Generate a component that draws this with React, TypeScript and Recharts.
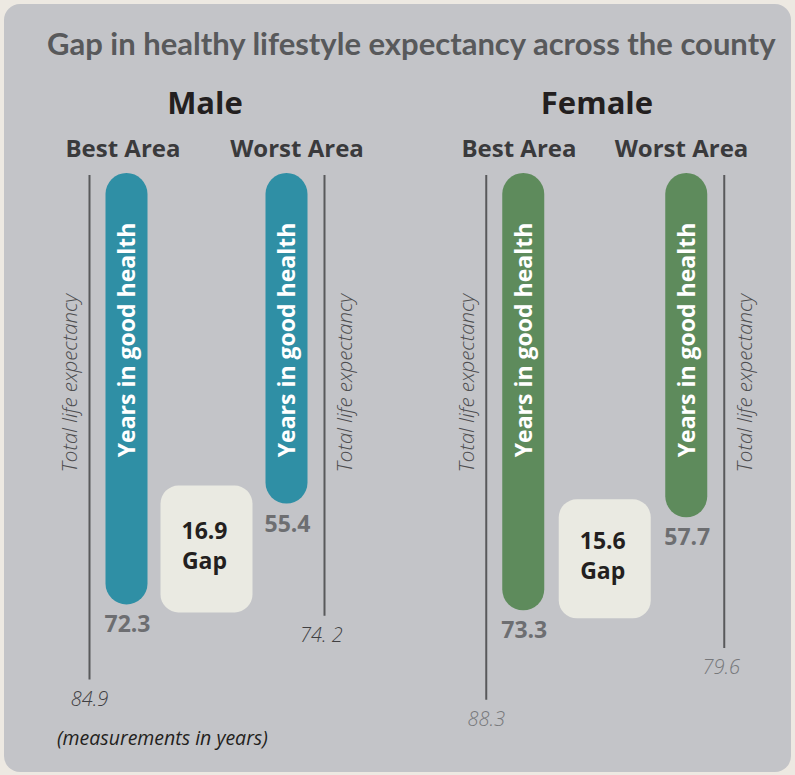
import { BarChart, Bar, XAxis, YAxis } from "recharts";

const AREAS = ["Best Area", "Gap", "Worst Area"];

const MALE_GOOD_HEALTH = [72.3, 55.4];
const MALE_TOTAL = [84.9, 74.2];
const MALE_TOTAL_LABELS = ["84.9", "74. 2"];

const FEMALE_GOOD_HEALTH = [73.3, 57.7];
const FEMALE_TOTAL = [88.3, 79.6];
const FEMALE_TOTAL_LABELS = ["88.3", "79.6"];

const FONT = "'Open Sans', 'Noto Sans', sans-serif";
const TITLE_FONT = "Lato, 'Open Sans', sans-serif";
const TEAL = "#2f8fa5";
const GREEN = "#5e8b5c";

function buildRows(good: number[], total: number[], totalLabels: string[]) {
  const gap = +(good[0] - good[1]).toFixed(1);
  return [
    { area: AREAS[0], good: good[0], total: total[0], totalLabel: totalLabels[0] },
    { area: AREAS[1], gap: [good[1], good[0]], gapValue: gap },
    { area: AREAS[2], good: good[1], total: total[1], totalLabel: totalLabels[1] },
  ];
}

function norm(p: any) {
  const top = Math.min(p.y, p.y + p.height);
  const h = Math.abs(p.height);
  return { cx: p.x + p.width / 2, top, bottom: top + h };
}

const pill = (fill: string) => (p: any) => {
  if (p.payload?.good == null) return <g />;
  const { cx, top, bottom } = norm(p);
  const w = 42;
  return (
    <g>
      <rect x={cx - w / 2} y={top} width={w} height={bottom - top} rx={w / 2} fill={fill} />
      <text
        x={cx}
        y={340}
        transform={`rotate(-90, ${cx}, 340)`}
        textAnchor="middle"
        dy="0.36em"
        fill="#fff"
        fontFamily={FONT}
        fontWeight={700}
        fontSize={23}
      >
        Years in good health
      </text>
      <text x={cx + 1} y={bottom + 28} textAnchor="middle" fill="#6d6e71" fontFamily={FONT} fontWeight={700} fontSize={23}>
        {p.payload.good}
      </text>
    </g>
  );
};

const totalLine = (labelColor: string) => (p: any) => {
  if (p.payload?.total == null) return <g />;
  const { cx, top, bottom } = norm(p);
  const left = p.index === 0;
  const lx = left ? cx - 37 : cx + 38;
  const tx = left ? lx - 20 : lx + 20;
  return (
    <g>
      <line x1={lx} x2={lx} y1={top + 2} y2={bottom} stroke="#58595b" strokeWidth={2} />
      <text
        x={tx}
        y={383}
        transform={`rotate(-90, ${tx}, 383)`}
        textAnchor="middle"
        dy="0.36em"
        fill="#4d4d4f"
        fontFamily={FONT}
        fontStyle="italic"
        fontWeight={300}
        fontSize={20.5}
      >
        Total life expectancy
      </text>
      <text
        x={left ? lx : lx - 3}
        y={bottom + 26}
        textAnchor="middle"
        fill={labelColor}
        fontFamily={FONT}
        fontStyle="italic"
        fontWeight={300}
        fontSize={20}
      >
        {p.payload.totalLabel}
      </text>
    </g>
  );
};

const gapBox = (p: any) => {
  if (p.payload?.gap == null) return <g />;
  const { cx, top, bottom } = norm(p);
  const y0 = top - 18;
  const y1 = bottom + 8;
  const mid = (y0 + y1) / 2;
  return (
    <g>
      <rect x={cx - 46} y={y0} width={92} height={y1 - y0} rx={18} fill="#eaeae2" />
      <text x={cx - 2} textAnchor="middle" fill="#231f20" fontFamily={FONT} fontWeight={700} fontSize={23}>
        <tspan x={cx - 2} y={mid - 10}>{p.payload.gapValue.toFixed(1)}</tspan>
        <tspan x={cx - 2} y={mid + 20}>Gap</tspan>
      </text>
    </g>
  );
};

const AreaTick = (offsets: number[]) => (p: any) => {
  const i = p.index;
  if (i === 1) return <g />;
  return (
    <text x={p.x + offsets[i]} y={157} textAnchor="middle" fill="#3a3a3c" fontFamily={FONT} fontWeight={700} fontSize={24}>
      {p.payload.value}
    </text>
  );
};

function GenderChart({
  rows,
  color,
  labelColor,
  left,
  width,
  marginLeft,
  marginRight,
  offsets,
}: {
  rows: any[];
  color: string;
  labelColor: string;
  left: number;
  width: number;
  marginLeft: number;
  marginRight: number;
  offsets: number[];
}) {
  return (
    <div style={{ position: "absolute", left, top: 0 }}>
      <BarChart
        width={width}
        height={775}
        data={rows}
        margin={{ top: 133, right: marginRight, left: marginLeft, bottom: 65 }}
        barSize={42}
        barGap={-42}
        barCategoryGap={0}
      >
        <XAxis
          dataKey="area"
          orientation="top"
          height={40}
          axisLine={false}
          tickLine={false}
          interval={0}
          tick={AreaTick(offsets)}
        />
        <YAxis hide reversed domain={[0, 90]} type="number" />
        <Bar dataKey="total" shape={totalLine(labelColor)} isAnimationActive={false} />
        <Bar dataKey="gap" shape={gapBox} isAnimationActive={false} />
        <Bar dataKey="good" shape={pill(color)} isAnimationActive={false} />
      </BarChart>
    </div>
  );
}

export default function App() {
  const male = buildRows(MALE_GOOD_HEALTH, MALE_TOTAL, MALE_TOTAL_LABELS);
  const female = buildRows(FEMALE_GOOD_HEALTH, FEMALE_TOTAL, FEMALE_TOTAL_LABELS);
  return (
    <div style={{ position: "absolute", left: 0, top: 0, width: 795, height: 775, background: "#ede9e2", overflow: "hidden" }}>
      <div style={{ position: "absolute", left: 4, top: 4, width: 787, height: 768, borderRadius: 16, background: "#c3c4c8" }} />
      <svg width={795} height={775} style={{ position: "absolute", left: 0, top: 0 }}>
        <text x={47} y={55} fill="#58595b" fontFamily={TITLE_FONT} fontWeight={700} fontSize={31}>
          Gap in healthy lifestyle expectancy across the county
        </text>
        <text x={205} y={114} textAnchor="middle" fill="#231f20" fontFamily={FONT} fontWeight={700} fontSize={31}>
          Male
        </text>
        <text x={597} y={114} textAnchor="middle" fill="#231f20" fontFamily={FONT} fontWeight={700} fontSize={31}>
          Female
        </text>
        <text x={57} y={745} fill="#231f20" fontFamily={FONT} fontStyle="italic" fontSize={19.5}>
          (measurements in years)
        </text>
      </svg>
      <GenderChart
        rows={male}
        color={TEAL}
        labelColor="#414042"
        left={0}
        width={400}
        marginLeft={86.5}
        marginRight={73.5}
        offsets={[-3.5, 0, 10.5]}
      />
      <GenderChart
        rows={female}
        color={GREEN}
        labelColor="#77787b"
        left={400}
        width={395}
        marginLeft={82.25}
        marginRight={68.25}
        offsets={[-4, 0, -4.5]}
      />
    </div>
  );
}
